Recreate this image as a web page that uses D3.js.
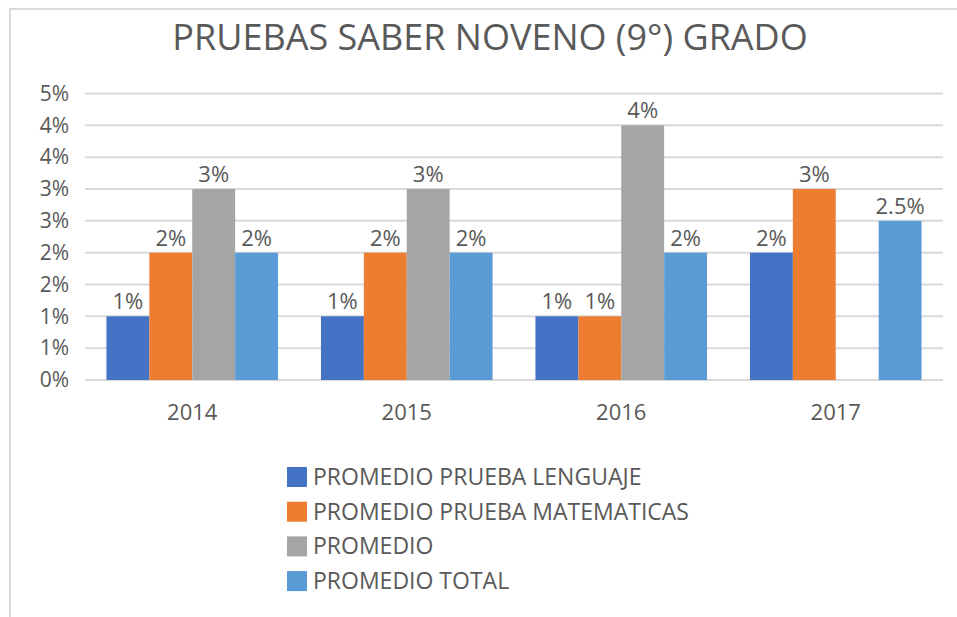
<!DOCTYPE html>
<html lang="es">
<head>
  <meta charset="UTF-8">
  <title>Pruebas Saber Noveno (9°) Grado</title>
  <script src="https://cdnjs.cloudflare.com/ajax/libs/d3/7.8.5/d3.min.js"></script>
  <style>
    body {
      margin: 0;
      padding: 0;
      background: #fff;
    }
    svg { display: block; }
    svg text { font-family: "Open Sans", "Noto Sans", sans-serif; fill: #595959; }
  </style>
</head>
<body>

<svg id="chart" width="957" height="617"></svg>

<script>
  // Data (percent units)
  const years = ["2014", "2015", "2016", "2017"];
  const series = ["PROMEDIO PRUEBA LENGUAJE", "PROMEDIO PRUEBA MATEMATICAS", "PROMEDIO", "PROMEDIO TOTAL"];
  const colors = ["#4472C4", "#ED7D31", "#A5A5A5", "#5B9BD5"];
  const lenguaje = [1, 1, 1, 2];
  const matematicas = [2, 2, 1, 3];
  const promedio = [3, 3, 4, null];
  const total = [2, 2, 2, 2.5];
  const values = [lenguaje, matematicas, promedio, total];
  const yTicks = [0, 0.5, 1, 1.5, 2, 2.5, 3, 3.5, 4, 4.5];
  const yTickLabels = ["0%", "1%", "1%", "2%", "2%", "3%", "3%", "4%", "4%", "5%"];

  const svg = d3.select("#chart"),
        width = +svg.attr("width"),
        height = +svg.attr("height"),
        margin = { left: 85, right: 14, top: 93.5, bottom: 237 };

  // frame (top and left edge only)
  svg.append("path")
    .attr("d", `M10,${height} L10,9 L${width},9`)
    .attr("fill", "none")
    .attr("stroke", "#d9d9d9")
    .attr("stroke-width", 2);

  // title
  svg.append("text")
    .attr("x", 490)
    .attr("y", 50)
    .attr("text-anchor", "middle")
    .attr("font-size", 36)
    .text("PRUEBAS SABER NOVENO (9°) GRADO");

  const x0 = d3.scaleBand()
    .domain(years)
    .range([margin.left, width - margin.right])
    .paddingInner(0.2)
    .paddingOuter(0.1);
  const x1 = d3.scaleBand()
    .domain(d3.range(series.length))
    .range([0, x0.bandwidth()]);
  const y = d3.scaleLinear()
    .domain([0, 4.5])
    .range([height - margin.bottom, margin.top]);

  // gridlines
  svg.append("g")
    .selectAll("line")
    .data(yTicks)
    .join("line")
      .attr("x1", margin.left)
      .attr("x2", width - margin.right)
      .attr("y1", d => y(d))
      .attr("y2", d => y(d))
      .attr("stroke", "#d9d9d9")
      .attr("stroke-width", 2);

  // y axis labels
  const yAxis = svg.append("g")
    .attr("transform", `translate(${margin.left - 16},0)`)
    .call(d3.axisLeft(y).tickValues(yTicks).tickFormat((d, i) => yTickLabels[i]).tickSize(0).tickPadding(0));
  yAxis.select(".domain").remove();
  yAxis.selectAll("text").attr("font-size", 21);

  // x axis labels
  const xAxis = svg.append("g")
    .attr("transform", `translate(0,${height - margin.bottom})`)
    .call(d3.axisBottom(x0).tickSize(0).tickPadding(24));
  xAxis.select(".domain").remove();
  xAxis.selectAll("text").attr("font-size", 22);

  // bars
  const groups = svg.append("g")
    .selectAll("g")
    .data(years)
    .join("g")
      .attr("transform", d => `translate(${x0(d)},0)`);

  groups.each(function(year, yi) {
    const g = d3.select(this);
    values.forEach((vals, si) => {
      const v = vals[yi];
      if (v == null) return;
      g.append("rect")
        .attr("x", x1(si))
        .attr("y", y(v))
        .attr("width", x1.bandwidth())
        .attr("height", y(0) - y(v))
        .attr("fill", colors[si]);
      g.append("text")
        .attr("x", x1(si) + x1.bandwidth() / 2)
        .attr("y", y(v) - 7)
        .attr("text-anchor", "middle")
        .attr("font-size", 22)
        .text(v + "%");
    });
  });

  // legend
  const legend = svg.append("g")
    .attr("transform", "translate(287,467)");
  series.forEach((s, i) => {
    const row = legend.append("g").attr("transform", `translate(0,${i * 34.7})`);
    row.append("rect")
      .attr("width", 20)
      .attr("height", 20)
      .attr("fill", colors[i]);
    row.append("text")
      .attr("x", 26)
      .attr("y", 10)
      .attr("dy", "0.35em")
      .attr("font-size", 23)
      .text(s);
  });
</script>

</body>
</html>
